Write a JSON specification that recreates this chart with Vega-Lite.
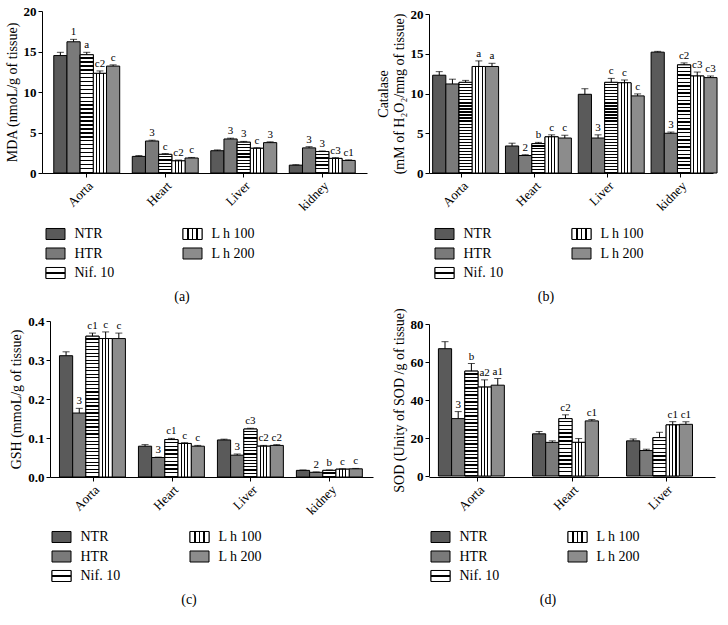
{
"$schema": "https://vega.github.io/schema/vega-lite/v6.json",
"autosize": {"type": "pad"},
"padding": {"left": 5, "top": 5, "right": 0, "bottom": 0},
"background": "white",
"bounds": "flush",
"columns": 2,
"spacing": {"row": 48, "column": 56},
"datasets": {
"a": [
{"o":"Aorta","t":"NTR","v":14.5,"e":14.9,"l":""},
{"o":"Aorta","t":"HTR","v":16.2,"e":16.5,"l":"1"},
{"o":"Aorta","t":"Nif. 10","v":14.6,"e":14.9,"l":"a"},
{"o":"Aorta","t":"L h 100","v":12.3,"e":12.6,"l":"c2"},
{"o":"Aorta","t":"L h 200","v":13.2,"e":13.35,"l":"c"},
{"o":"Heart","t":"NTR","v":2.05,"e":2.15,"l":""},
{"o":"Heart","t":"HTR","v":3.95,"e":4.05,"l":"3"},
{"o":"Heart","t":"Nif. 10","v":2.3,"e":2.4,"l":"c"},
{"o":"Heart","t":"L h 100","v":1.5,"e":1.6,"l":"c2"},
{"o":"Heart","t":"L h 200","v":1.85,"e":1.92,"l":"c"},
{"o":"Liver","t":"NTR","v":2.75,"e":2.85,"l":""},
{"o":"Liver","t":"HTR","v":4.2,"e":4.3,"l":"3"},
{"o":"Liver","t":"Nif. 10","v":3.8,"e":3.9,"l":"3"},
{"o":"Liver","t":"L h 100","v":3.05,"e":3.12,"l":"c"},
{"o":"Liver","t":"L h 200","v":3.75,"e":3.85,"l":"3"},
{"o":"kidney","t":"NTR","v":0.97,"e":1.03,"l":""},
{"o":"kidney","t":"HTR","v":3.1,"e":3.25,"l":"3"},
{"o":"kidney","t":"Nif. 10","v":2.65,"e":2.72,"l":"3"},
{"o":"kidney","t":"L h 100","v":1.8,"e":1.9,"l":"c3"},
{"o":"kidney","t":"L h 200","v":1.55,"e":1.62,"l":"c1"}
],
"b": [
{"o":"Aorta","t":"NTR","v":12.3,"e":12.75,"l":""},
{"o":"Aorta","t":"HTR","v":11.2,"e":11.8,"l":""},
{"o":"Aorta","t":"Nif. 10","v":11.4,"e":11.65,"l":""},
{"o":"Aorta","t":"L h 100","v":13.4,"e":14.1,"l":"a"},
{"o":"Aorta","t":"L h 200","v":13.4,"e":13.8,"l":"a"},
{"o":"Heart","t":"NTR","v":3.4,"e":3.75,"l":""},
{"o":"Heart","t":"HTR","v":2.2,"e":2.3,"l":"2"},
{"o":"Heart","t":"Nif. 10","v":3.7,"e":3.85,"l":"b"},
{"o":"Heart","t":"L h 100","v":4.55,"e":4.8,"l":"c"},
{"o":"Heart","t":"L h 200","v":4.4,"e":4.75,"l":"c"},
{"o":"Liver","t":"NTR","v":9.9,"e":10.6,"l":""},
{"o":"Liver","t":"HTR","v":4.4,"e":4.8,"l":"3"},
{"o":"Liver","t":"Nif. 10","v":11.4,"e":11.9,"l":"c"},
{"o":"Liver","t":"L h 100","v":11.35,"e":11.7,"l":"c"},
{"o":"Liver","t":"L h 200","v":9.7,"e":9.95,"l":"c"},
{"o":"kidney","t":"NTR","v":15.2,"e":15.3,"l":""},
{"o":"kidney","t":"HTR","v":5.0,"e":5.15,"l":"3"},
{"o":"kidney","t":"Nif. 10","v":13.6,"e":13.85,"l":"c2"},
{"o":"kidney","t":"L h 100","v":12.2,"e":12.7,"l":"c3"},
{"o":"kidney","t":"L h 200","v":12.0,"e":12.2,"l":"c3"}
],
"c": [
{"o":"Aorta","t":"NTR","v":0.311,"e":0.321,"l":""},
{"o":"Aorta","t":"HTR","v":0.164,"e":0.176,"l":"3"},
{"o":"Aorta","t":"Nif. 10","v":0.361,"e":0.369,"l":"c1"},
{"o":"Aorta","t":"L h 100","v":0.355,"e":0.372,"l":"c"},
{"o":"Aorta","t":"L h 200","v":0.355,"e":0.369,"l":"c"},
{"o":"Heart","t":"NTR","v":0.079,"e":0.083,"l":""},
{"o":"Heart","t":"HTR","v":0.05,"e":0.051,"l":"3"},
{"o":"Heart","t":"Nif. 10","v":0.096,"e":0.099,"l":"c1"},
{"o":"Heart","t":"L h 100","v":0.086,"e":0.088,"l":"c"},
{"o":"Heart","t":"L h 200","v":0.079,"e":0.081,"l":"c"},
{"o":"Liver","t":"NTR","v":0.095,"e":0.097,"l":""},
{"o":"Liver","t":"HTR","v":0.056,"e":0.059,"l":"3"},
{"o":"Liver","t":"Nif. 10","v":0.123,"e":0.125,"l":"c3"},
{"o":"Liver","t":"L h 100","v":0.079,"e":0.081,"l":"c2"},
{"o":"Liver","t":"L h 200","v":0.081,"e":0.083,"l":"c2"},
{"o":"kidney","t":"NTR","v":0.017,"e":0.018,"l":""},
{"o":"kidney","t":"HTR","v":0.012,"e":0.013,"l":"2"},
{"o":"kidney","t":"Nif. 10","v":0.017,"e":0.018,"l":"b"},
{"o":"kidney","t":"L h 100","v":0.02,"e":0.021,"l":"c"},
{"o":"kidney","t":"L h 200","v":0.021,"e":0.022,"l":"c"}
],
"d": [
{"o":"Aorta","t":"NTR","v":67.0,"e":70.7,"l":""},
{"o":"Aorta","t":"HTR","v":30.2,"e":33.9,"l":"3"},
{"o":"Aorta","t":"Nif. 10","v":55.2,"e":59.2,"l":"b"},
{"o":"Aorta","t":"L h 100","v":46.8,"e":50.6,"l":"a2"},
{"o":"Aorta","t":"L h 200","v":47.8,"e":51.3,"l":"a1"},
{"o":"Heart","t":"NTR","v":22.2,"e":23.4,"l":""},
{"o":"Heart","t":"HTR","v":17.7,"e":18.5,"l":""},
{"o":"Heart","t":"Nif. 10","v":30.2,"e":32.2,"l":"c2"},
{"o":"Heart","t":"L h 100","v":17.7,"e":19.7,"l":""},
{"o":"Heart","t":"L h 200","v":29.0,"e":29.7,"l":"c1"},
{"o":"Liver","t":"NTR","v":18.5,"e":19.5,"l":""},
{"o":"Liver","t":"HTR","v":13.4,"e":14.1,"l":""},
{"o":"Liver","t":"Nif. 10","v":20.2,"e":23.0,"l":""},
{"o":"Liver","t":"L h 100","v":26.9,"e":28.6,"l":"c1"},
{"o":"Liver","t":"L h 200","v":27.2,"e":28.5,"l":"c1"}
],
"leg": [
{"t":"NTR","c":0,"r":0},
{"t":"HTR","c":0,"r":1},
{"t":"Nif. 10","c":0,"r":2},
{"t":"L h 100","c":1,"r":0},
{"t":"L h 200","c":1,"r":1}
]
},
"concat": [
  {"width": 325, "height": 162, "data": {"name": "a"},
   "encoding": {
    "x": {"field": "o", "type": "nominal", "scale": {"domain": ["Aorta","Heart","Liver","kidney"], "paddingInner": 0.16, "paddingOuter": 0.15}, "axis": {"title": null}},
    "xOffset": {"field": "t", "type": "nominal", "scale": {"domain": ["NTR","HTR","Nif. 10","L h 100","L h 200"]}}
   },
   "layer": [
    {"mark": {"type": "bar", "stroke": "black", "strokeWidth": 1},
     "encoding": {"y": {"field": "v", "type": "quantitative", "scale": {"domain": [0, 20]}, "axis": {"values": [0,5,10,15,20], "tickCount": 10, "title": "MDA (nmoL/g of tissue)"}},
      "fill": {"field": "t", "type": "nominal", "scale": {"domain": ["NTR","HTR","Nif. 10","L h 100","L h 200"], "range": ["#5a5a5a","#7a7a7a","#ffffff","#ffffff","#8c8c8c"]}, "legend": null}}},
    {"transform": [{"filter": "datum.t === 'Nif. 10'"}], "mark": {"type": "bar", "stroke": "black", "strokeWidth": 1},
     "encoding": {"y": {"field": "v", "type": "quantitative"},
      "fill": {"condition": [
       {"test": "datum.o === 'Heart' || datum.o === 'kidney'", "value": {"gradient": "linear", "x1": 0, "y1": 0, "x2": 0, "y2": 1, "stops": [
{"offset":0,"color":"#fff"},{"offset":0.103,"color":"#fff"},{"offset":0.103,"color":"#000"},{"offset":0.167,"color":"#000"},
{"offset":0.167,"color":"#fff"},{"offset":0.27,"color":"#fff"},{"offset":0.27,"color":"#000"},{"offset":0.333,"color":"#000"},
{"offset":0.333,"color":"#fff"},{"offset":0.437,"color":"#fff"},{"offset":0.437,"color":"#000"},{"offset":0.5,"color":"#000"},
{"offset":0.5,"color":"#fff"},{"offset":0.603,"color":"#fff"},{"offset":0.603,"color":"#000"},{"offset":0.667,"color":"#000"},
{"offset":0.667,"color":"#fff"},{"offset":0.77,"color":"#fff"},{"offset":0.77,"color":"#000"},{"offset":0.833,"color":"#000"},
{"offset":0.833,"color":"#fff"},{"offset":0.937,"color":"#fff"},{"offset":0.937,"color":"#000"},{"offset":1,"color":"#000"}]}},
       {"test": "datum.o === 'Liver'", "value": {"gradient": "linear", "x1": 0, "y1": 0, "x2": 0, "y2": 1, "stops": [
{"offset":0,"color":"#fff"},{"offset":0.062,"color":"#fff"},{"offset":0.062,"color":"#000"},{"offset":0.1,"color":"#000"},
{"offset":0.1,"color":"#fff"},{"offset":0.162,"color":"#fff"},{"offset":0.162,"color":"#000"},{"offset":0.2,"color":"#000"},
{"offset":0.2,"color":"#fff"},{"offset":0.262,"color":"#fff"},{"offset":0.262,"color":"#000"},{"offset":0.3,"color":"#000"},
{"offset":0.3,"color":"#fff"},{"offset":0.362,"color":"#fff"},{"offset":0.362,"color":"#000"},{"offset":0.4,"color":"#000"},
{"offset":0.4,"color":"#fff"},{"offset":0.462,"color":"#fff"},{"offset":0.462,"color":"#000"},{"offset":0.5,"color":"#000"},
{"offset":0.5,"color":"#fff"},{"offset":0.562,"color":"#fff"},{"offset":0.562,"color":"#000"},{"offset":0.6,"color":"#000"},
{"offset":0.6,"color":"#fff"},{"offset":0.662,"color":"#fff"},{"offset":0.662,"color":"#000"},{"offset":0.7,"color":"#000"},
{"offset":0.7,"color":"#fff"},{"offset":0.762,"color":"#fff"},{"offset":0.762,"color":"#000"},{"offset":0.8,"color":"#000"},
{"offset":0.8,"color":"#fff"},{"offset":0.862,"color":"#fff"},{"offset":0.862,"color":"#000"},{"offset":0.9,"color":"#000"},
{"offset":0.9,"color":"#fff"},{"offset":0.962,"color":"#fff"},{"offset":0.962,"color":"#000"},{"offset":1,"color":"#000"}]}}],
       "value": {"gradient": "linear", "x1": 0, "y1": 0, "x2": 0, "y2": 1, "stops": [
{"offset":0,"color":"#fff"},{"offset":0.0207,"color":"#fff"},{"offset":0.0207,"color":"#000"},{"offset":0.0333,"color":"#000"},
{"offset":0.0333,"color":"#fff"},{"offset":0.054,"color":"#fff"},{"offset":0.054,"color":"#000"},{"offset":0.0667,"color":"#000"},
{"offset":0.0667,"color":"#fff"},{"offset":0.0874,"color":"#fff"},{"offset":0.0874,"color":"#000"},{"offset":0.1,"color":"#000"},
{"offset":0.1,"color":"#fff"},{"offset":0.1207,"color":"#fff"},{"offset":0.1207,"color":"#000"},{"offset":0.1333,"color":"#000"},
{"offset":0.1333,"color":"#fff"},{"offset":0.154,"color":"#fff"},{"offset":0.154,"color":"#000"},{"offset":0.1667,"color":"#000"},
{"offset":0.1667,"color":"#fff"},{"offset":0.1874,"color":"#fff"},{"offset":0.1874,"color":"#000"},{"offset":0.2,"color":"#000"},
{"offset":0.2,"color":"#fff"},{"offset":0.2207,"color":"#fff"},{"offset":0.2207,"color":"#000"},{"offset":0.2333,"color":"#000"},
{"offset":0.2333,"color":"#fff"},{"offset":0.254,"color":"#fff"},{"offset":0.254,"color":"#000"},{"offset":0.2667,"color":"#000"},
{"offset":0.2667,"color":"#fff"},{"offset":0.2874,"color":"#fff"},{"offset":0.2874,"color":"#000"},{"offset":0.3,"color":"#000"},
{"offset":0.3,"color":"#fff"},{"offset":0.3207,"color":"#fff"},{"offset":0.3207,"color":"#000"},{"offset":0.3333,"color":"#000"},
{"offset":0.3333,"color":"#fff"},{"offset":0.354,"color":"#fff"},{"offset":0.354,"color":"#000"},{"offset":0.3667,"color":"#000"},
{"offset":0.3667,"color":"#fff"},{"offset":0.3874,"color":"#fff"},{"offset":0.3874,"color":"#000"},{"offset":0.4,"color":"#000"},
{"offset":0.4,"color":"#fff"},{"offset":0.4207,"color":"#fff"},{"offset":0.4207,"color":"#000"},{"offset":0.4333,"color":"#000"},
{"offset":0.4333,"color":"#fff"},{"offset":0.454,"color":"#fff"},{"offset":0.454,"color":"#000"},{"offset":0.4667,"color":"#000"},
{"offset":0.4667,"color":"#fff"},{"offset":0.4874,"color":"#fff"},{"offset":0.4874,"color":"#000"},{"offset":0.5,"color":"#000"},
{"offset":0.5,"color":"#fff"},{"offset":0.5207,"color":"#fff"},{"offset":0.5207,"color":"#000"},{"offset":0.5333,"color":"#000"},
{"offset":0.5333,"color":"#fff"},{"offset":0.554,"color":"#fff"},{"offset":0.554,"color":"#000"},{"offset":0.5667,"color":"#000"},
{"offset":0.5667,"color":"#fff"},{"offset":0.5874,"color":"#fff"},{"offset":0.5874,"color":"#000"},{"offset":0.6,"color":"#000"},
{"offset":0.6,"color":"#fff"},{"offset":0.6207,"color":"#fff"},{"offset":0.6207,"color":"#000"},{"offset":0.6333,"color":"#000"},
{"offset":0.6333,"color":"#fff"},{"offset":0.654,"color":"#fff"},{"offset":0.654,"color":"#000"},{"offset":0.6667,"color":"#000"},
{"offset":0.6667,"color":"#fff"},{"offset":0.6874,"color":"#fff"},{"offset":0.6874,"color":"#000"},{"offset":0.7,"color":"#000"},
{"offset":0.7,"color":"#fff"},{"offset":0.7207,"color":"#fff"},{"offset":0.7207,"color":"#000"},{"offset":0.7333,"color":"#000"},
{"offset":0.7333,"color":"#fff"},{"offset":0.754,"color":"#fff"},{"offset":0.754,"color":"#000"},{"offset":0.7667,"color":"#000"},
{"offset":0.7667,"color":"#fff"},{"offset":0.7874,"color":"#fff"},{"offset":0.7874,"color":"#000"},{"offset":0.8,"color":"#000"},
{"offset":0.8,"color":"#fff"},{"offset":0.8207,"color":"#fff"},{"offset":0.8207,"color":"#000"},{"offset":0.8333,"color":"#000"},
{"offset":0.8333,"color":"#fff"},{"offset":0.854,"color":"#fff"},{"offset":0.854,"color":"#000"},{"offset":0.8667,"color":"#000"},
{"offset":0.8667,"color":"#fff"},{"offset":0.8874,"color":"#fff"},{"offset":0.8874,"color":"#000"},{"offset":0.9,"color":"#000"},
{"offset":0.9,"color":"#fff"},{"offset":0.9207,"color":"#fff"},{"offset":0.9207,"color":"#000"},{"offset":0.9333,"color":"#000"},
{"offset":0.9333,"color":"#fff"},{"offset":0.954,"color":"#fff"},{"offset":0.954,"color":"#000"},{"offset":0.9667,"color":"#000"},
{"offset":0.9667,"color":"#fff"},{"offset":0.9874,"color":"#fff"},{"offset":0.9874,"color":"#000"},{"offset":1,"color":"#000"}]}}}},
    {"transform": [{"filter": "datum.t === 'L h 100'"}], "mark": {"type": "bar", "stroke": "black", "strokeWidth": 1, "fill": {"gradient": "linear", "x1": 0, "y1": 0, "x2": 1, "y2": 0, "stops": [
   {"offset": 0, "color": "#fff"}, {"offset": 0.21, "color": "#fff"}, {"offset": 0.21, "color": "#000"}, {"offset": 0.29, "color": "#000"},
   {"offset": 0.29, "color": "#fff"}, {"offset": 0.46, "color": "#fff"}, {"offset": 0.46, "color": "#000"}, {"offset": 0.54, "color": "#000"},
   {"offset": 0.54, "color": "#fff"}, {"offset": 0.71, "color": "#fff"}, {"offset": 0.71, "color": "#000"}, {"offset": 0.79, "color": "#000"},
   {"offset": 0.79, "color": "#fff"}, {"offset": 1, "color": "#fff"}]}}, "encoding": {"y": {"field": "v", "type": "quantitative"}}},
    {"mark": {"type": "rule", "color": "black", "strokeWidth": 1}, "encoding": {"y": {"field": "v", "type": "quantitative"}, "y2": {"field": "e"}}},
    {"mark": {"type": "tick", "color": "black", "size": 7, "thickness": 1}, "encoding": {"y": {"field": "e", "type": "quantitative"}}},
    {"mark": {"type": "text", "baseline": "bottom", "dy": -2, "fontSize": 11, "font": "Liberation Serif", "color": "black"}, "encoding": {"y": {"field": "e", "type": "quantitative"}, "text": {"field": "l"}}}
   ]},
  {"width": 284, "height": 162, "data": {"name": "b"},
   "encoding": {
    "x": {"field": "o", "type": "nominal", "scale": {"domain": ["Aorta","Heart","Liver","kidney"], "paddingInner": 0.2, "paddingOuter": 0.05}, "axis": {"title": null}},
    "xOffset": {"field": "t", "type": "nominal", "scale": {"domain": ["NTR","HTR","Nif. 10","L h 100","L h 200"]}}
   },
   "layer": [
    {"mark": {"type": "bar", "stroke": "black", "strokeWidth": 1},
     "encoding": {"y": {"field": "v", "type": "quantitative", "scale": {"domain": [0, 20], "range": [162, 3]}, "axis": {"values": [0,5,10,15,20], "tickCount": 10, "title": ["Catalase", "(mM of H₂O₂/mng of tissue)"]}},
      "fill": {"field": "t", "type": "nominal", "scale": {"domain": ["NTR","HTR","Nif. 10","L h 100","L h 200"], "range": ["#5a5a5a","#7a7a7a","#ffffff","#ffffff","#8c8c8c"]}, "legend": null}}},
    {"transform": [{"filter": "datum.t === 'Nif. 10'"}], "mark": {"type": "bar", "stroke": "black", "strokeWidth": 1},
     "encoding": {"y": {"field": "v", "type": "quantitative"},
      "fill": {"condition": [
       {"test": "datum.o === 'Heart'", "value": {"gradient": "linear", "x1": 0, "y1": 0, "x2": 0, "y2": 1, "stops": [
{"offset":0,"color":"#fff"},{"offset":0.062,"color":"#fff"},{"offset":0.062,"color":"#000"},{"offset":0.1,"color":"#000"},
{"offset":0.1,"color":"#fff"},{"offset":0.162,"color":"#fff"},{"offset":0.162,"color":"#000"},{"offset":0.2,"color":"#000"},
{"offset":0.2,"color":"#fff"},{"offset":0.262,"color":"#fff"},{"offset":0.262,"color":"#000"},{"offset":0.3,"color":"#000"},
{"offset":0.3,"color":"#fff"},{"offset":0.362,"color":"#fff"},{"offset":0.362,"color":"#000"},{"offset":0.4,"color":"#000"},
{"offset":0.4,"color":"#fff"},{"offset":0.462,"color":"#fff"},{"offset":0.462,"color":"#000"},{"offset":0.5,"color":"#000"},
{"offset":0.5,"color":"#fff"},{"offset":0.562,"color":"#fff"},{"offset":0.562,"color":"#000"},{"offset":0.6,"color":"#000"},
{"offset":0.6,"color":"#fff"},{"offset":0.662,"color":"#fff"},{"offset":0.662,"color":"#000"},{"offset":0.7,"color":"#000"},
{"offset":0.7,"color":"#fff"},{"offset":0.762,"color":"#fff"},{"offset":0.762,"color":"#000"},{"offset":0.8,"color":"#000"},
{"offset":0.8,"color":"#fff"},{"offset":0.862,"color":"#fff"},{"offset":0.862,"color":"#000"},{"offset":0.9,"color":"#000"},
{"offset":0.9,"color":"#fff"},{"offset":0.962,"color":"#fff"},{"offset":0.962,"color":"#000"},{"offset":1,"color":"#000"}]}}],
       "value": {"gradient": "linear", "x1": 0, "y1": 0, "x2": 0, "y2": 1, "stops": [
{"offset":0,"color":"#fff"},{"offset":0.0207,"color":"#fff"},{"offset":0.0207,"color":"#000"},{"offset":0.0333,"color":"#000"},
{"offset":0.0333,"color":"#fff"},{"offset":0.054,"color":"#fff"},{"offset":0.054,"color":"#000"},{"offset":0.0667,"color":"#000"},
{"offset":0.0667,"color":"#fff"},{"offset":0.0874,"color":"#fff"},{"offset":0.0874,"color":"#000"},{"offset":0.1,"color":"#000"},
{"offset":0.1,"color":"#fff"},{"offset":0.1207,"color":"#fff"},{"offset":0.1207,"color":"#000"},{"offset":0.1333,"color":"#000"},
{"offset":0.1333,"color":"#fff"},{"offset":0.154,"color":"#fff"},{"offset":0.154,"color":"#000"},{"offset":0.1667,"color":"#000"},
{"offset":0.1667,"color":"#fff"},{"offset":0.1874,"color":"#fff"},{"offset":0.1874,"color":"#000"},{"offset":0.2,"color":"#000"},
{"offset":0.2,"color":"#fff"},{"offset":0.2207,"color":"#fff"},{"offset":0.2207,"color":"#000"},{"offset":0.2333,"color":"#000"},
{"offset":0.2333,"color":"#fff"},{"offset":0.254,"color":"#fff"},{"offset":0.254,"color":"#000"},{"offset":0.2667,"color":"#000"},
{"offset":0.2667,"color":"#fff"},{"offset":0.2874,"color":"#fff"},{"offset":0.2874,"color":"#000"},{"offset":0.3,"color":"#000"},
{"offset":0.3,"color":"#fff"},{"offset":0.3207,"color":"#fff"},{"offset":0.3207,"color":"#000"},{"offset":0.3333,"color":"#000"},
{"offset":0.3333,"color":"#fff"},{"offset":0.354,"color":"#fff"},{"offset":0.354,"color":"#000"},{"offset":0.3667,"color":"#000"},
{"offset":0.3667,"color":"#fff"},{"offset":0.3874,"color":"#fff"},{"offset":0.3874,"color":"#000"},{"offset":0.4,"color":"#000"},
{"offset":0.4,"color":"#fff"},{"offset":0.4207,"color":"#fff"},{"offset":0.4207,"color":"#000"},{"offset":0.4333,"color":"#000"},
{"offset":0.4333,"color":"#fff"},{"offset":0.454,"color":"#fff"},{"offset":0.454,"color":"#000"},{"offset":0.4667,"color":"#000"},
{"offset":0.4667,"color":"#fff"},{"offset":0.4874,"color":"#fff"},{"offset":0.4874,"color":"#000"},{"offset":0.5,"color":"#000"},
{"offset":0.5,"color":"#fff"},{"offset":0.5207,"color":"#fff"},{"offset":0.5207,"color":"#000"},{"offset":0.5333,"color":"#000"},
{"offset":0.5333,"color":"#fff"},{"offset":0.554,"color":"#fff"},{"offset":0.554,"color":"#000"},{"offset":0.5667,"color":"#000"},
{"offset":0.5667,"color":"#fff"},{"offset":0.5874,"color":"#fff"},{"offset":0.5874,"color":"#000"},{"offset":0.6,"color":"#000"},
{"offset":0.6,"color":"#fff"},{"offset":0.6207,"color":"#fff"},{"offset":0.6207,"color":"#000"},{"offset":0.6333,"color":"#000"},
{"offset":0.6333,"color":"#fff"},{"offset":0.654,"color":"#fff"},{"offset":0.654,"color":"#000"},{"offset":0.6667,"color":"#000"},
{"offset":0.6667,"color":"#fff"},{"offset":0.6874,"color":"#fff"},{"offset":0.6874,"color":"#000"},{"offset":0.7,"color":"#000"},
{"offset":0.7,"color":"#fff"},{"offset":0.7207,"color":"#fff"},{"offset":0.7207,"color":"#000"},{"offset":0.7333,"color":"#000"},
{"offset":0.7333,"color":"#fff"},{"offset":0.754,"color":"#fff"},{"offset":0.754,"color":"#000"},{"offset":0.7667,"color":"#000"},
{"offset":0.7667,"color":"#fff"},{"offset":0.7874,"color":"#fff"},{"offset":0.7874,"color":"#000"},{"offset":0.8,"color":"#000"},
{"offset":0.8,"color":"#fff"},{"offset":0.8207,"color":"#fff"},{"offset":0.8207,"color":"#000"},{"offset":0.8333,"color":"#000"},
{"offset":0.8333,"color":"#fff"},{"offset":0.854,"color":"#fff"},{"offset":0.854,"color":"#000"},{"offset":0.8667,"color":"#000"},
{"offset":0.8667,"color":"#fff"},{"offset":0.8874,"color":"#fff"},{"offset":0.8874,"color":"#000"},{"offset":0.9,"color":"#000"},
{"offset":0.9,"color":"#fff"},{"offset":0.9207,"color":"#fff"},{"offset":0.9207,"color":"#000"},{"offset":0.9333,"color":"#000"},
{"offset":0.9333,"color":"#fff"},{"offset":0.954,"color":"#fff"},{"offset":0.954,"color":"#000"},{"offset":0.9667,"color":"#000"},
{"offset":0.9667,"color":"#fff"},{"offset":0.9874,"color":"#fff"},{"offset":0.9874,"color":"#000"},{"offset":1,"color":"#000"}]}}}},
    {"transform": [{"filter": "datum.t === 'L h 100'"}], "mark": {"type": "bar", "stroke": "black", "strokeWidth": 1, "fill": {"gradient": "linear", "x1": 0, "y1": 0, "x2": 1, "y2": 0, "stops": [
   {"offset": 0, "color": "#fff"}, {"offset": 0.21, "color": "#fff"}, {"offset": 0.21, "color": "#000"}, {"offset": 0.29, "color": "#000"},
   {"offset": 0.29, "color": "#fff"}, {"offset": 0.46, "color": "#fff"}, {"offset": 0.46, "color": "#000"}, {"offset": 0.54, "color": "#000"},
   {"offset": 0.54, "color": "#fff"}, {"offset": 0.71, "color": "#fff"}, {"offset": 0.71, "color": "#000"}, {"offset": 0.79, "color": "#000"},
   {"offset": 0.79, "color": "#fff"}, {"offset": 1, "color": "#fff"}]}}, "encoding": {"y": {"field": "v", "type": "quantitative"}}},
    {"mark": {"type": "rule", "color": "black", "strokeWidth": 1}, "encoding": {"y": {"field": "v", "type": "quantitative"}, "y2": {"field": "e"}}},
    {"mark": {"type": "tick", "color": "black", "size": 7, "thickness": 1}, "encoding": {"y": {"field": "e", "type": "quantitative"}}},
    {"mark": {"type": "text", "baseline": "bottom", "dy": -2, "fontSize": 11, "font": "Liberation Serif", "color": "black"}, "encoding": {"y": {"field": "e", "type": "quantitative"}, "text": {"field": "l"}}}
   ]},
  {"width": 280, "height": 52, "data": {"name": "leg"},
   "title": {"text": "(a)", "orient": "bottom", "offset": 9},
   "encoding": {
    "x": {"field": "c", "type": "quantitative", "scale": {"domain": [0, 1], "range": [13.5, 150.5]}, "axis": null},
    "y": {"field": "r", "type": "quantitative", "scale": {"domain": [0, 2], "range": [13, 52]}, "axis": null}
   },
   "layer": [
    {"mark": {"type": "point", "shape": "M-1,-0.58H1V0.58H-1Z", "size": 361, "filled": true, "opacity": 1, "stroke": "black", "strokeWidth": 1},
     "encoding": {"fill": {"field": "t", "type": "nominal", "scale": {"domain": ["NTR","HTR","Nif. 10","L h 100","L h 200"], "range": ["#5a5a5a","#7a7a7a","#ffffff","#ffffff","#8c8c8c"]}, "legend": null}}},
    {"transform": [{"filter": "datum.t === 'Nif. 10'"}], "mark": {"type": "point", "shape": "M-1,-0.58H1V0.58H-1Z", "size": 361, "filled": true, "opacity": 1, "stroke": "black", "strokeWidth": 1, "fill": {"gradient": "linear", "x1": 0, "y1": 0, "x2": 0, "y2": 1, "stops": [
   {"offset": 0, "color": "#fff"}, {"offset": 0.44, "color": "#fff"}, {"offset": 0.44, "color": "#000"}, {"offset": 0.58, "color": "#000"},
   {"offset": 0.58, "color": "#fff"}, {"offset": 1, "color": "#fff"}]}}},
    {"transform": [{"filter": "datum.t === 'L h 100'"}], "mark": {"type": "point", "shape": "M-1,-0.58H1V0.58H-1Z", "size": 361, "filled": true, "opacity": 1, "stroke": "black", "strokeWidth": 1, "fill": {"gradient": "linear", "x1": 0, "y1": 0, "x2": 1, "y2": 0, "stops": [
   {"offset": 0, "color": "#fff"}, {"offset": 0.21, "color": "#fff"}, {"offset": 0.21, "color": "#000"}, {"offset": 0.29, "color": "#000"},
   {"offset": 0.29, "color": "#fff"}, {"offset": 0.46, "color": "#fff"}, {"offset": 0.46, "color": "#000"}, {"offset": 0.54, "color": "#000"},
   {"offset": 0.54, "color": "#fff"}, {"offset": 0.71, "color": "#fff"}, {"offset": 0.71, "color": "#000"}, {"offset": 0.79, "color": "#000"},
   {"offset": 0.79, "color": "#fff"}, {"offset": 1, "color": "#fff"}]}}},
    {"mark": {"type": "text", "align": "left", "baseline": "middle", "dx": 19, "fontSize": 14, "font": "Liberation Serif", "color": "black"}, "encoding": {"text": {"field": "t"}}}
   ]},
  {"width": 234, "height": 52, "data": {"name": "leg"},
   "title": {"text": "(b)", "orient": "bottom", "offset": 9},
   "encoding": {
    "x": {"field": "c", "type": "quantitative", "scale": {"domain": [0, 1], "range": [15.5, 152.5]}, "axis": null},
    "y": {"field": "r", "type": "quantitative", "scale": {"domain": [0, 2], "range": [13, 52]}, "axis": null}
   },
   "layer": [
    {"mark": {"type": "point", "shape": "M-1,-0.58H1V0.58H-1Z", "size": 361, "filled": true, "opacity": 1, "stroke": "black", "strokeWidth": 1},
     "encoding": {"fill": {"field": "t", "type": "nominal", "scale": {"domain": ["NTR","HTR","Nif. 10","L h 100","L h 200"], "range": ["#5a5a5a","#7a7a7a","#ffffff","#ffffff","#8c8c8c"]}, "legend": null}}},
    {"transform": [{"filter": "datum.t === 'Nif. 10'"}], "mark": {"type": "point", "shape": "M-1,-0.58H1V0.58H-1Z", "size": 361, "filled": true, "opacity": 1, "stroke": "black", "strokeWidth": 1, "fill": {"gradient": "linear", "x1": 0, "y1": 0, "x2": 0, "y2": 1, "stops": [
   {"offset": 0, "color": "#fff"}, {"offset": 0.44, "color": "#fff"}, {"offset": 0.44, "color": "#000"}, {"offset": 0.58, "color": "#000"},
   {"offset": 0.58, "color": "#fff"}, {"offset": 1, "color": "#fff"}]}}},
    {"transform": [{"filter": "datum.t === 'L h 100'"}], "mark": {"type": "point", "shape": "M-1,-0.58H1V0.58H-1Z", "size": 361, "filled": true, "opacity": 1, "stroke": "black", "strokeWidth": 1, "fill": {"gradient": "linear", "x1": 0, "y1": 0, "x2": 1, "y2": 0, "stops": [
   {"offset": 0, "color": "#fff"}, {"offset": 0.21, "color": "#fff"}, {"offset": 0.21, "color": "#000"}, {"offset": 0.29, "color": "#000"},
   {"offset": 0.29, "color": "#fff"}, {"offset": 0.46, "color": "#fff"}, {"offset": 0.46, "color": "#000"}, {"offset": 0.54, "color": "#000"},
   {"offset": 0.54, "color": "#fff"}, {"offset": 0.71, "color": "#fff"}, {"offset": 0.71, "color": "#000"}, {"offset": 0.79, "color": "#000"},
   {"offset": 0.79, "color": "#fff"}, {"offset": 1, "color": "#fff"}]}}},
    {"mark": {"type": "text", "align": "left", "baseline": "middle", "dx": 19, "fontSize": 14, "font": "Liberation Serif", "color": "black"}, "encoding": {"text": {"field": "t"}}}
   ]},
  {"width": 331, "height": 156, "data": {"name": "c"},
   "encoding": {
    "x": {"field": "o", "type": "nominal", "scale": {"domain": ["Aorta","Heart","Liver","kidney"], "range": [8, 331], "paddingInner": 0.15, "paddingOuter": 0.12}, "axis": {"title": null}},
    "xOffset": {"field": "t", "type": "nominal", "scale": {"domain": ["NTR","HTR","Nif. 10","L h 100","L h 200"]}}
   },
   "layer": [
    {"mark": {"type": "bar", "stroke": "black", "strokeWidth": 1},
     "encoding": {"y": {"field": "v", "type": "quantitative", "scale": {"domain": [0, 0.4]}, "axis": {"values": [0,0.1,0.2,0.3,0.4], "tickCount": 10, "format": ".1f", "offset": -8, "title": "GSH (mmoL/g of tissue)"}},
      "fill": {"field": "t", "type": "nominal", "scale": {"domain": ["NTR","HTR","Nif. 10","L h 100","L h 200"], "range": ["#5a5a5a","#7a7a7a","#ffffff","#ffffff","#8c8c8c"]}, "legend": null}}},
    {"transform": [{"filter": "datum.t === 'Nif. 10'"}], "mark": {"type": "bar", "stroke": "black", "strokeWidth": 1},
     "encoding": {"y": {"field": "v", "type": "quantitative"},
      "fill": {"condition": [
       {"test": "datum.o === 'Heart'", "value": {"gradient": "linear", "x1": 0, "y1": 0, "x2": 0, "y2": 1, "stops": [
{"offset":0,"color":"#fff"},{"offset":0.062,"color":"#fff"},{"offset":0.062,"color":"#000"},{"offset":0.1,"color":"#000"},
{"offset":0.1,"color":"#fff"},{"offset":0.162,"color":"#fff"},{"offset":0.162,"color":"#000"},{"offset":0.2,"color":"#000"},
{"offset":0.2,"color":"#fff"},{"offset":0.262,"color":"#fff"},{"offset":0.262,"color":"#000"},{"offset":0.3,"color":"#000"},
{"offset":0.3,"color":"#fff"},{"offset":0.362,"color":"#fff"},{"offset":0.362,"color":"#000"},{"offset":0.4,"color":"#000"},
{"offset":0.4,"color":"#fff"},{"offset":0.462,"color":"#fff"},{"offset":0.462,"color":"#000"},{"offset":0.5,"color":"#000"},
{"offset":0.5,"color":"#fff"},{"offset":0.562,"color":"#fff"},{"offset":0.562,"color":"#000"},{"offset":0.6,"color":"#000"},
{"offset":0.6,"color":"#fff"},{"offset":0.662,"color":"#fff"},{"offset":0.662,"color":"#000"},{"offset":0.7,"color":"#000"},
{"offset":0.7,"color":"#fff"},{"offset":0.762,"color":"#fff"},{"offset":0.762,"color":"#000"},{"offset":0.8,"color":"#000"},
{"offset":0.8,"color":"#fff"},{"offset":0.862,"color":"#fff"},{"offset":0.862,"color":"#000"},{"offset":0.9,"color":"#000"},
{"offset":0.9,"color":"#fff"},{"offset":0.962,"color":"#fff"},{"offset":0.962,"color":"#000"},{"offset":1,"color":"#000"}]}},
       {"test": "datum.o === 'Liver'", "value": {"gradient": "linear", "x1": 0, "y1": 0, "x2": 0, "y2": 1, "stops": [
{"offset":0,"color":"#fff"},{"offset":0.0413,"color":"#fff"},{"offset":0.0413,"color":"#000"},{"offset":0.0667,"color":"#000"},
{"offset":0.0667,"color":"#fff"},{"offset":0.108,"color":"#fff"},{"offset":0.108,"color":"#000"},{"offset":0.1333,"color":"#000"},
{"offset":0.1333,"color":"#fff"},{"offset":0.1746,"color":"#fff"},{"offset":0.1746,"color":"#000"},{"offset":0.2,"color":"#000"},
{"offset":0.2,"color":"#fff"},{"offset":0.2413,"color":"#fff"},{"offset":0.2413,"color":"#000"},{"offset":0.2667,"color":"#000"},
{"offset":0.2667,"color":"#fff"},{"offset":0.308,"color":"#fff"},{"offset":0.308,"color":"#000"},{"offset":0.3333,"color":"#000"},
{"offset":0.3333,"color":"#fff"},{"offset":0.3746,"color":"#fff"},{"offset":0.3746,"color":"#000"},{"offset":0.4,"color":"#000"},
{"offset":0.4,"color":"#fff"},{"offset":0.4413,"color":"#fff"},{"offset":0.4413,"color":"#000"},{"offset":0.4667,"color":"#000"},
{"offset":0.4667,"color":"#fff"},{"offset":0.508,"color":"#fff"},{"offset":0.508,"color":"#000"},{"offset":0.5333,"color":"#000"},
{"offset":0.5333,"color":"#fff"},{"offset":0.5746,"color":"#fff"},{"offset":0.5746,"color":"#000"},{"offset":0.6,"color":"#000"},
{"offset":0.6,"color":"#fff"},{"offset":0.6413,"color":"#fff"},{"offset":0.6413,"color":"#000"},{"offset":0.6667,"color":"#000"},
{"offset":0.6667,"color":"#fff"},{"offset":0.708,"color":"#fff"},{"offset":0.708,"color":"#000"},{"offset":0.7333,"color":"#000"},
{"offset":0.7333,"color":"#fff"},{"offset":0.7746,"color":"#fff"},{"offset":0.7746,"color":"#000"},{"offset":0.8,"color":"#000"},
{"offset":0.8,"color":"#fff"},{"offset":0.8413,"color":"#fff"},{"offset":0.8413,"color":"#000"},{"offset":0.8667,"color":"#000"},
{"offset":0.8667,"color":"#fff"},{"offset":0.908,"color":"#fff"},{"offset":0.908,"color":"#000"},{"offset":0.9333,"color":"#000"},
{"offset":0.9333,"color":"#fff"},{"offset":0.9746,"color":"#fff"},{"offset":0.9746,"color":"#000"},{"offset":1,"color":"#000"}]}},
       {"test": "datum.o === 'kidney'", "value": {"gradient": "linear", "x1": 0, "y1": 0, "x2": 0, "y2": 1, "stops": [
{"offset":0,"color":"#fff"},{"offset":0.31,"color":"#fff"},{"offset":0.31,"color":"#000"},{"offset":0.5,"color":"#000"},
{"offset":0.5,"color":"#fff"},{"offset":0.81,"color":"#fff"},{"offset":0.81,"color":"#000"},{"offset":1,"color":"#000"}]}}],
       "value": {"gradient": "linear", "x1": 0, "y1": 0, "x2": 0, "y2": 1, "stops": [
{"offset":0,"color":"#fff"},{"offset":0.016,"color":"#fff"},{"offset":0.016,"color":"#000"},{"offset":0.025,"color":"#000"},
{"offset":0.025,"color":"#fff"},{"offset":0.041,"color":"#fff"},{"offset":0.041,"color":"#000"},{"offset":0.05,"color":"#000"},
{"offset":0.05,"color":"#fff"},{"offset":0.066,"color":"#fff"},{"offset":0.066,"color":"#000"},{"offset":0.075,"color":"#000"},
{"offset":0.075,"color":"#fff"},{"offset":0.091,"color":"#fff"},{"offset":0.091,"color":"#000"},{"offset":0.1,"color":"#000"},
{"offset":0.1,"color":"#fff"},{"offset":0.116,"color":"#fff"},{"offset":0.116,"color":"#000"},{"offset":0.125,"color":"#000"},
{"offset":0.125,"color":"#fff"},{"offset":0.141,"color":"#fff"},{"offset":0.141,"color":"#000"},{"offset":0.15,"color":"#000"},
{"offset":0.15,"color":"#fff"},{"offset":0.166,"color":"#fff"},{"offset":0.166,"color":"#000"},{"offset":0.175,"color":"#000"},
{"offset":0.175,"color":"#fff"},{"offset":0.191,"color":"#fff"},{"offset":0.191,"color":"#000"},{"offset":0.2,"color":"#000"},
{"offset":0.2,"color":"#fff"},{"offset":0.216,"color":"#fff"},{"offset":0.216,"color":"#000"},{"offset":0.225,"color":"#000"},
{"offset":0.225,"color":"#fff"},{"offset":0.241,"color":"#fff"},{"offset":0.241,"color":"#000"},{"offset":0.25,"color":"#000"},
{"offset":0.25,"color":"#fff"},{"offset":0.266,"color":"#fff"},{"offset":0.266,"color":"#000"},{"offset":0.275,"color":"#000"},
{"offset":0.275,"color":"#fff"},{"offset":0.291,"color":"#fff"},{"offset":0.291,"color":"#000"},{"offset":0.3,"color":"#000"},
{"offset":0.3,"color":"#fff"},{"offset":0.316,"color":"#fff"},{"offset":0.316,"color":"#000"},{"offset":0.325,"color":"#000"},
{"offset":0.325,"color":"#fff"},{"offset":0.341,"color":"#fff"},{"offset":0.341,"color":"#000"},{"offset":0.35,"color":"#000"},
{"offset":0.35,"color":"#fff"},{"offset":0.366,"color":"#fff"},{"offset":0.366,"color":"#000"},{"offset":0.375,"color":"#000"},
{"offset":0.375,"color":"#fff"},{"offset":0.391,"color":"#fff"},{"offset":0.391,"color":"#000"},{"offset":0.4,"color":"#000"},
{"offset":0.4,"color":"#fff"},{"offset":0.416,"color":"#fff"},{"offset":0.416,"color":"#000"},{"offset":0.425,"color":"#000"},
{"offset":0.425,"color":"#fff"},{"offset":0.441,"color":"#fff"},{"offset":0.441,"color":"#000"},{"offset":0.45,"color":"#000"},
{"offset":0.45,"color":"#fff"},{"offset":0.466,"color":"#fff"},{"offset":0.466,"color":"#000"},{"offset":0.475,"color":"#000"},
{"offset":0.475,"color":"#fff"},{"offset":0.491,"color":"#fff"},{"offset":0.491,"color":"#000"},{"offset":0.5,"color":"#000"},
{"offset":0.5,"color":"#fff"},{"offset":0.516,"color":"#fff"},{"offset":0.516,"color":"#000"},{"offset":0.525,"color":"#000"},
{"offset":0.525,"color":"#fff"},{"offset":0.541,"color":"#fff"},{"offset":0.541,"color":"#000"},{"offset":0.55,"color":"#000"},
{"offset":0.55,"color":"#fff"},{"offset":0.566,"color":"#fff"},{"offset":0.566,"color":"#000"},{"offset":0.575,"color":"#000"},
{"offset":0.575,"color":"#fff"},{"offset":0.591,"color":"#fff"},{"offset":0.591,"color":"#000"},{"offset":0.6,"color":"#000"},
{"offset":0.6,"color":"#fff"},{"offset":0.616,"color":"#fff"},{"offset":0.616,"color":"#000"},{"offset":0.625,"color":"#000"},
{"offset":0.625,"color":"#fff"},{"offset":0.641,"color":"#fff"},{"offset":0.641,"color":"#000"},{"offset":0.65,"color":"#000"},
{"offset":0.65,"color":"#fff"},{"offset":0.666,"color":"#fff"},{"offset":0.666,"color":"#000"},{"offset":0.675,"color":"#000"},
{"offset":0.675,"color":"#fff"},{"offset":0.691,"color":"#fff"},{"offset":0.691,"color":"#000"},{"offset":0.7,"color":"#000"},
{"offset":0.7,"color":"#fff"},{"offset":0.716,"color":"#fff"},{"offset":0.716,"color":"#000"},{"offset":0.725,"color":"#000"},
{"offset":0.725,"color":"#fff"},{"offset":0.741,"color":"#fff"},{"offset":0.741,"color":"#000"},{"offset":0.75,"color":"#000"},
{"offset":0.75,"color":"#fff"},{"offset":0.766,"color":"#fff"},{"offset":0.766,"color":"#000"},{"offset":0.775,"color":"#000"},
{"offset":0.775,"color":"#fff"},{"offset":0.791,"color":"#fff"},{"offset":0.791,"color":"#000"},{"offset":0.8,"color":"#000"},
{"offset":0.8,"color":"#fff"},{"offset":0.816,"color":"#fff"},{"offset":0.816,"color":"#000"},{"offset":0.825,"color":"#000"},
{"offset":0.825,"color":"#fff"},{"offset":0.841,"color":"#fff"},{"offset":0.841,"color":"#000"},{"offset":0.85,"color":"#000"},
{"offset":0.85,"color":"#fff"},{"offset":0.866,"color":"#fff"},{"offset":0.866,"color":"#000"},{"offset":0.875,"color":"#000"},
{"offset":0.875,"color":"#fff"},{"offset":0.891,"color":"#fff"},{"offset":0.891,"color":"#000"},{"offset":0.9,"color":"#000"},
{"offset":0.9,"color":"#fff"},{"offset":0.916,"color":"#fff"},{"offset":0.916,"color":"#000"},{"offset":0.925,"color":"#000"},
{"offset":0.925,"color":"#fff"},{"offset":0.941,"color":"#fff"},{"offset":0.941,"color":"#000"},{"offset":0.95,"color":"#000"},
{"offset":0.95,"color":"#fff"},{"offset":0.966,"color":"#fff"},{"offset":0.966,"color":"#000"},{"offset":0.975,"color":"#000"},
{"offset":0.975,"color":"#fff"},{"offset":0.991,"color":"#fff"},{"offset":0.991,"color":"#000"},{"offset":1,"color":"#000"}]}}}},
    {"transform": [{"filter": "datum.t === 'L h 100'"}], "mark": {"type": "bar", "stroke": "black", "strokeWidth": 1, "fill": {"gradient": "linear", "x1": 0, "y1": 0, "x2": 1, "y2": 0, "stops": [
   {"offset": 0, "color": "#fff"}, {"offset": 0.21, "color": "#fff"}, {"offset": 0.21, "color": "#000"}, {"offset": 0.29, "color": "#000"},
   {"offset": 0.29, "color": "#fff"}, {"offset": 0.46, "color": "#fff"}, {"offset": 0.46, "color": "#000"}, {"offset": 0.54, "color": "#000"},
   {"offset": 0.54, "color": "#fff"}, {"offset": 0.71, "color": "#fff"}, {"offset": 0.71, "color": "#000"}, {"offset": 0.79, "color": "#000"},
   {"offset": 0.79, "color": "#fff"}, {"offset": 1, "color": "#fff"}]}}, "encoding": {"y": {"field": "v", "type": "quantitative"}}},
    {"mark": {"type": "rule", "color": "black", "strokeWidth": 1}, "encoding": {"y": {"field": "v", "type": "quantitative"}, "y2": {"field": "e"}}},
    {"mark": {"type": "tick", "color": "black", "size": 7, "thickness": 1}, "encoding": {"y": {"field": "e", "type": "quantitative"}}},
    {"mark": {"type": "text", "baseline": "bottom", "dy": -2, "fontSize": 11, "font": "Liberation Serif", "color": "black"}, "encoding": {"y": {"field": "e", "type": "quantitative"}, "text": {"field": "l"}}}
   ]},
  {"width": 286, "height": 156, "data": {"name": "d"},
   "encoding": {
    "x": {"field": "o", "type": "nominal", "scale": {"domain": ["Aorta","Heart","Liver"], "paddingInner": 0.16, "paddingOuter": 0.1}, "axis": {"title": null}},
    "xOffset": {"field": "t", "type": "nominal", "scale": {"domain": ["NTR","HTR","Nif. 10","L h 100","L h 200"]}}
   },
   "layer": [
    {"mark": {"type": "bar", "stroke": "black", "strokeWidth": 1},
     "encoding": {"y": {"field": "v", "type": "quantitative", "scale": {"domain": [0, 80], "range": [155, 3]}, "axis": {"values": [0,20,40,60,80], "tickCount": 10, "title": "SOD (Unity of SOD /g of tissue)"}},
      "fill": {"field": "t", "type": "nominal", "scale": {"domain": ["NTR","HTR","Nif. 10","L h 100","L h 200"], "range": ["#5a5a5a","#7a7a7a","#ffffff","#ffffff","#8c8c8c"]}, "legend": null}}},
    {"transform": [{"filter": "datum.t === 'Nif. 10'"}], "mark": {"type": "bar", "stroke": "black", "strokeWidth": 1},
     "encoding": {"y": {"field": "v", "type": "quantitative"},
      "fill": {"condition": [
       {"test": "datum.o === 'Heart'", "value": {"gradient": "linear", "x1": 0, "y1": 0, "x2": 0, "y2": 1, "stops": [
{"offset":0,"color":"#fff"},{"offset":0.0413,"color":"#fff"},{"offset":0.0413,"color":"#000"},{"offset":0.0667,"color":"#000"},
{"offset":0.0667,"color":"#fff"},{"offset":0.108,"color":"#fff"},{"offset":0.108,"color":"#000"},{"offset":0.1333,"color":"#000"},
{"offset":0.1333,"color":"#fff"},{"offset":0.1746,"color":"#fff"},{"offset":0.1746,"color":"#000"},{"offset":0.2,"color":"#000"},
{"offset":0.2,"color":"#fff"},{"offset":0.2413,"color":"#fff"},{"offset":0.2413,"color":"#000"},{"offset":0.2667,"color":"#000"},
{"offset":0.2667,"color":"#fff"},{"offset":0.308,"color":"#fff"},{"offset":0.308,"color":"#000"},{"offset":0.3333,"color":"#000"},
{"offset":0.3333,"color":"#fff"},{"offset":0.3746,"color":"#fff"},{"offset":0.3746,"color":"#000"},{"offset":0.4,"color":"#000"},
{"offset":0.4,"color":"#fff"},{"offset":0.4413,"color":"#fff"},{"offset":0.4413,"color":"#000"},{"offset":0.4667,"color":"#000"},
{"offset":0.4667,"color":"#fff"},{"offset":0.508,"color":"#fff"},{"offset":0.508,"color":"#000"},{"offset":0.5333,"color":"#000"},
{"offset":0.5333,"color":"#fff"},{"offset":0.5746,"color":"#fff"},{"offset":0.5746,"color":"#000"},{"offset":0.6,"color":"#000"},
{"offset":0.6,"color":"#fff"},{"offset":0.6413,"color":"#fff"},{"offset":0.6413,"color":"#000"},{"offset":0.6667,"color":"#000"},
{"offset":0.6667,"color":"#fff"},{"offset":0.708,"color":"#fff"},{"offset":0.708,"color":"#000"},{"offset":0.7333,"color":"#000"},
{"offset":0.7333,"color":"#fff"},{"offset":0.7746,"color":"#fff"},{"offset":0.7746,"color":"#000"},{"offset":0.8,"color":"#000"},
{"offset":0.8,"color":"#fff"},{"offset":0.8413,"color":"#fff"},{"offset":0.8413,"color":"#000"},{"offset":0.8667,"color":"#000"},
{"offset":0.8667,"color":"#fff"},{"offset":0.908,"color":"#fff"},{"offset":0.908,"color":"#000"},{"offset":0.9333,"color":"#000"},
{"offset":0.9333,"color":"#fff"},{"offset":0.9746,"color":"#fff"},{"offset":0.9746,"color":"#000"},{"offset":1,"color":"#000"}]}},
       {"test": "datum.o === 'Liver'", "value": {"gradient": "linear", "x1": 0, "y1": 0, "x2": 0, "y2": 1, "stops": [
{"offset":0,"color":"#fff"},{"offset":0.062,"color":"#fff"},{"offset":0.062,"color":"#000"},{"offset":0.1,"color":"#000"},
{"offset":0.1,"color":"#fff"},{"offset":0.162,"color":"#fff"},{"offset":0.162,"color":"#000"},{"offset":0.2,"color":"#000"},
{"offset":0.2,"color":"#fff"},{"offset":0.262,"color":"#fff"},{"offset":0.262,"color":"#000"},{"offset":0.3,"color":"#000"},
{"offset":0.3,"color":"#fff"},{"offset":0.362,"color":"#fff"},{"offset":0.362,"color":"#000"},{"offset":0.4,"color":"#000"},
{"offset":0.4,"color":"#fff"},{"offset":0.462,"color":"#fff"},{"offset":0.462,"color":"#000"},{"offset":0.5,"color":"#000"},
{"offset":0.5,"color":"#fff"},{"offset":0.562,"color":"#fff"},{"offset":0.562,"color":"#000"},{"offset":0.6,"color":"#000"},
{"offset":0.6,"color":"#fff"},{"offset":0.662,"color":"#fff"},{"offset":0.662,"color":"#000"},{"offset":0.7,"color":"#000"},
{"offset":0.7,"color":"#fff"},{"offset":0.762,"color":"#fff"},{"offset":0.762,"color":"#000"},{"offset":0.8,"color":"#000"},
{"offset":0.8,"color":"#fff"},{"offset":0.862,"color":"#fff"},{"offset":0.862,"color":"#000"},{"offset":0.9,"color":"#000"},
{"offset":0.9,"color":"#fff"},{"offset":0.962,"color":"#fff"},{"offset":0.962,"color":"#000"},{"offset":1,"color":"#000"}]}}],
       "value": {"gradient": "linear", "x1": 0, "y1": 0, "x2": 0, "y2": 1, "stops": [
{"offset":0,"color":"#fff"},{"offset":0.0207,"color":"#fff"},{"offset":0.0207,"color":"#000"},{"offset":0.0333,"color":"#000"},
{"offset":0.0333,"color":"#fff"},{"offset":0.054,"color":"#fff"},{"offset":0.054,"color":"#000"},{"offset":0.0667,"color":"#000"},
{"offset":0.0667,"color":"#fff"},{"offset":0.0874,"color":"#fff"},{"offset":0.0874,"color":"#000"},{"offset":0.1,"color":"#000"},
{"offset":0.1,"color":"#fff"},{"offset":0.1207,"color":"#fff"},{"offset":0.1207,"color":"#000"},{"offset":0.1333,"color":"#000"},
{"offset":0.1333,"color":"#fff"},{"offset":0.154,"color":"#fff"},{"offset":0.154,"color":"#000"},{"offset":0.1667,"color":"#000"},
{"offset":0.1667,"color":"#fff"},{"offset":0.1874,"color":"#fff"},{"offset":0.1874,"color":"#000"},{"offset":0.2,"color":"#000"},
{"offset":0.2,"color":"#fff"},{"offset":0.2207,"color":"#fff"},{"offset":0.2207,"color":"#000"},{"offset":0.2333,"color":"#000"},
{"offset":0.2333,"color":"#fff"},{"offset":0.254,"color":"#fff"},{"offset":0.254,"color":"#000"},{"offset":0.2667,"color":"#000"},
{"offset":0.2667,"color":"#fff"},{"offset":0.2874,"color":"#fff"},{"offset":0.2874,"color":"#000"},{"offset":0.3,"color":"#000"},
{"offset":0.3,"color":"#fff"},{"offset":0.3207,"color":"#fff"},{"offset":0.3207,"color":"#000"},{"offset":0.3333,"color":"#000"},
{"offset":0.3333,"color":"#fff"},{"offset":0.354,"color":"#fff"},{"offset":0.354,"color":"#000"},{"offset":0.3667,"color":"#000"},
{"offset":0.3667,"color":"#fff"},{"offset":0.3874,"color":"#fff"},{"offset":0.3874,"color":"#000"},{"offset":0.4,"color":"#000"},
{"offset":0.4,"color":"#fff"},{"offset":0.4207,"color":"#fff"},{"offset":0.4207,"color":"#000"},{"offset":0.4333,"color":"#000"},
{"offset":0.4333,"color":"#fff"},{"offset":0.454,"color":"#fff"},{"offset":0.454,"color":"#000"},{"offset":0.4667,"color":"#000"},
{"offset":0.4667,"color":"#fff"},{"offset":0.4874,"color":"#fff"},{"offset":0.4874,"color":"#000"},{"offset":0.5,"color":"#000"},
{"offset":0.5,"color":"#fff"},{"offset":0.5207,"color":"#fff"},{"offset":0.5207,"color":"#000"},{"offset":0.5333,"color":"#000"},
{"offset":0.5333,"color":"#fff"},{"offset":0.554,"color":"#fff"},{"offset":0.554,"color":"#000"},{"offset":0.5667,"color":"#000"},
{"offset":0.5667,"color":"#fff"},{"offset":0.5874,"color":"#fff"},{"offset":0.5874,"color":"#000"},{"offset":0.6,"color":"#000"},
{"offset":0.6,"color":"#fff"},{"offset":0.6207,"color":"#fff"},{"offset":0.6207,"color":"#000"},{"offset":0.6333,"color":"#000"},
{"offset":0.6333,"color":"#fff"},{"offset":0.654,"color":"#fff"},{"offset":0.654,"color":"#000"},{"offset":0.6667,"color":"#000"},
{"offset":0.6667,"color":"#fff"},{"offset":0.6874,"color":"#fff"},{"offset":0.6874,"color":"#000"},{"offset":0.7,"color":"#000"},
{"offset":0.7,"color":"#fff"},{"offset":0.7207,"color":"#fff"},{"offset":0.7207,"color":"#000"},{"offset":0.7333,"color":"#000"},
{"offset":0.7333,"color":"#fff"},{"offset":0.754,"color":"#fff"},{"offset":0.754,"color":"#000"},{"offset":0.7667,"color":"#000"},
{"offset":0.7667,"color":"#fff"},{"offset":0.7874,"color":"#fff"},{"offset":0.7874,"color":"#000"},{"offset":0.8,"color":"#000"},
{"offset":0.8,"color":"#fff"},{"offset":0.8207,"color":"#fff"},{"offset":0.8207,"color":"#000"},{"offset":0.8333,"color":"#000"},
{"offset":0.8333,"color":"#fff"},{"offset":0.854,"color":"#fff"},{"offset":0.854,"color":"#000"},{"offset":0.8667,"color":"#000"},
{"offset":0.8667,"color":"#fff"},{"offset":0.8874,"color":"#fff"},{"offset":0.8874,"color":"#000"},{"offset":0.9,"color":"#000"},
{"offset":0.9,"color":"#fff"},{"offset":0.9207,"color":"#fff"},{"offset":0.9207,"color":"#000"},{"offset":0.9333,"color":"#000"},
{"offset":0.9333,"color":"#fff"},{"offset":0.954,"color":"#fff"},{"offset":0.954,"color":"#000"},{"offset":0.9667,"color":"#000"},
{"offset":0.9667,"color":"#fff"},{"offset":0.9874,"color":"#fff"},{"offset":0.9874,"color":"#000"},{"offset":1,"color":"#000"}]}}}},
    {"transform": [{"filter": "datum.t === 'L h 100'"}], "mark": {"type": "bar", "stroke": "black", "strokeWidth": 1, "fill": {"gradient": "linear", "x1": 0, "y1": 0, "x2": 1, "y2": 0, "stops": [
   {"offset": 0, "color": "#fff"}, {"offset": 0.21, "color": "#fff"}, {"offset": 0.21, "color": "#000"}, {"offset": 0.29, "color": "#000"},
   {"offset": 0.29, "color": "#fff"}, {"offset": 0.46, "color": "#fff"}, {"offset": 0.46, "color": "#000"}, {"offset": 0.54, "color": "#000"},
   {"offset": 0.54, "color": "#fff"}, {"offset": 0.71, "color": "#fff"}, {"offset": 0.71, "color": "#000"}, {"offset": 0.79, "color": "#000"},
   {"offset": 0.79, "color": "#fff"}, {"offset": 1, "color": "#fff"}]}}, "encoding": {"y": {"field": "v", "type": "quantitative"}}},
    {"mark": {"type": "rule", "color": "black", "strokeWidth": 1}, "encoding": {"y": {"field": "v", "type": "quantitative"}, "y2": {"field": "e"}}},
    {"mark": {"type": "tick", "color": "black", "size": 7, "thickness": 1}, "encoding": {"y": {"field": "e", "type": "quantitative"}}},
    {"mark": {"type": "text", "baseline": "bottom", "dy": -2, "fontSize": 11, "font": "Liberation Serif", "color": "black"}, "encoding": {"y": {"field": "e", "type": "quantitative"}, "text": {"field": "l"}}}
   ]},
  {"width": 294, "height": 51, "data": {"name": "leg"},
   "title": {"text": "(c)", "orient": "bottom", "offset": 9},
   "encoding": {
    "x": {"field": "c", "type": "quantitative", "scale": {"domain": [0, 1], "range": [19.5, 157.5]}, "axis": null},
    "y": {"field": "r", "type": "quantitative", "scale": {"domain": [0, 2], "range": [12, 51]}, "axis": null}
   },
   "layer": [
    {"mark": {"type": "point", "shape": "M-1,-0.58H1V0.58H-1Z", "size": 361, "filled": true, "opacity": 1, "stroke": "black", "strokeWidth": 1},
     "encoding": {"fill": {"field": "t", "type": "nominal", "scale": {"domain": ["NTR","HTR","Nif. 10","L h 100","L h 200"], "range": ["#5a5a5a","#7a7a7a","#ffffff","#ffffff","#8c8c8c"]}, "legend": null}}},
    {"transform": [{"filter": "datum.t === 'Nif. 10'"}], "mark": {"type": "point", "shape": "M-1,-0.58H1V0.58H-1Z", "size": 361, "filled": true, "opacity": 1, "stroke": "black", "strokeWidth": 1, "fill": {"gradient": "linear", "x1": 0, "y1": 0, "x2": 0, "y2": 1, "stops": [
   {"offset": 0, "color": "#fff"}, {"offset": 0.44, "color": "#fff"}, {"offset": 0.44, "color": "#000"}, {"offset": 0.58, "color": "#000"},
   {"offset": 0.58, "color": "#fff"}, {"offset": 1, "color": "#fff"}]}}},
    {"transform": [{"filter": "datum.t === 'L h 100'"}], "mark": {"type": "point", "shape": "M-1,-0.58H1V0.58H-1Z", "size": 361, "filled": true, "opacity": 1, "stroke": "black", "strokeWidth": 1, "fill": {"gradient": "linear", "x1": 0, "y1": 0, "x2": 1, "y2": 0, "stops": [
   {"offset": 0, "color": "#fff"}, {"offset": 0.21, "color": "#fff"}, {"offset": 0.21, "color": "#000"}, {"offset": 0.29, "color": "#000"},
   {"offset": 0.29, "color": "#fff"}, {"offset": 0.46, "color": "#fff"}, {"offset": 0.46, "color": "#000"}, {"offset": 0.54, "color": "#000"},
   {"offset": 0.54, "color": "#fff"}, {"offset": 0.71, "color": "#fff"}, {"offset": 0.71, "color": "#000"}, {"offset": 0.79, "color": "#000"},
   {"offset": 0.79, "color": "#fff"}, {"offset": 1, "color": "#fff"}]}}},
    {"mark": {"type": "text", "align": "left", "baseline": "middle", "dx": 19, "fontSize": 14, "font": "Liberation Serif", "color": "black"}, "encoding": {"text": {"field": "t"}}}
   ]},
  {"width": 238, "height": 51, "data": {"name": "leg"},
   "title": {"text": "(d)", "orient": "bottom", "offset": 9},
   "encoding": {
    "x": {"field": "c", "type": "quantitative", "scale": {"domain": [0, 1], "range": [11.5, 148.5]}, "axis": null},
    "y": {"field": "r", "type": "quantitative", "scale": {"domain": [0, 2], "range": [12, 51]}, "axis": null}
   },
   "layer": [
    {"mark": {"type": "point", "shape": "M-1,-0.58H1V0.58H-1Z", "size": 361, "filled": true, "opacity": 1, "stroke": "black", "strokeWidth": 1},
     "encoding": {"fill": {"field": "t", "type": "nominal", "scale": {"domain": ["NTR","HTR","Nif. 10","L h 100","L h 200"], "range": ["#5a5a5a","#7a7a7a","#ffffff","#ffffff","#8c8c8c"]}, "legend": null}}},
    {"transform": [{"filter": "datum.t === 'Nif. 10'"}], "mark": {"type": "point", "shape": "M-1,-0.58H1V0.58H-1Z", "size": 361, "filled": true, "opacity": 1, "stroke": "black", "strokeWidth": 1, "fill": {"gradient": "linear", "x1": 0, "y1": 0, "x2": 0, "y2": 1, "stops": [
   {"offset": 0, "color": "#fff"}, {"offset": 0.44, "color": "#fff"}, {"offset": 0.44, "color": "#000"}, {"offset": 0.58, "color": "#000"},
   {"offset": 0.58, "color": "#fff"}, {"offset": 1, "color": "#fff"}]}}},
    {"transform": [{"filter": "datum.t === 'L h 100'"}], "mark": {"type": "point", "shape": "M-1,-0.58H1V0.58H-1Z", "size": 361, "filled": true, "opacity": 1, "stroke": "black", "strokeWidth": 1, "fill": {"gradient": "linear", "x1": 0, "y1": 0, "x2": 1, "y2": 0, "stops": [
   {"offset": 0, "color": "#fff"}, {"offset": 0.21, "color": "#fff"}, {"offset": 0.21, "color": "#000"}, {"offset": 0.29, "color": "#000"},
   {"offset": 0.29, "color": "#fff"}, {"offset": 0.46, "color": "#fff"}, {"offset": 0.46, "color": "#000"}, {"offset": 0.54, "color": "#000"},
   {"offset": 0.54, "color": "#fff"}, {"offset": 0.71, "color": "#fff"}, {"offset": 0.71, "color": "#000"}, {"offset": 0.79, "color": "#000"},
   {"offset": 0.79, "color": "#fff"}, {"offset": 1, "color": "#fff"}]}}},
    {"mark": {"type": "text", "align": "left", "baseline": "middle", "dx": 19, "fontSize": 14, "font": "Liberation Serif", "color": "black"}, "encoding": {"text": {"field": "t"}}}
   ]}
],
"config": {
 "view": {"stroke": null},
 "font": "Liberation Serif",
 "axis": {"grid": false, "domainColor": "black", "tickColor": "black", "labelColor": "black", "titleColor": "black", "labelFont": "Liberation Serif", "titleFont": "Liberation Serif", "titleFontWeight": "normal", "labelFontSize": 13, "titleFontSize": 14, "domainWidth": 1, "tickWidth": 1},
 "axisY": {"labelFontWeight": "bold", "tickSize": 4, "labelPadding": 2, "labelOverlap": false},
 "axisX": {"labelAngle": -45, "tickSize": 4, "labelFontWeight": "normal"},
 "title": {"font": "Liberation Serif", "fontSize": 14, "fontWeight": "normal", "color": "black"}
}
}
